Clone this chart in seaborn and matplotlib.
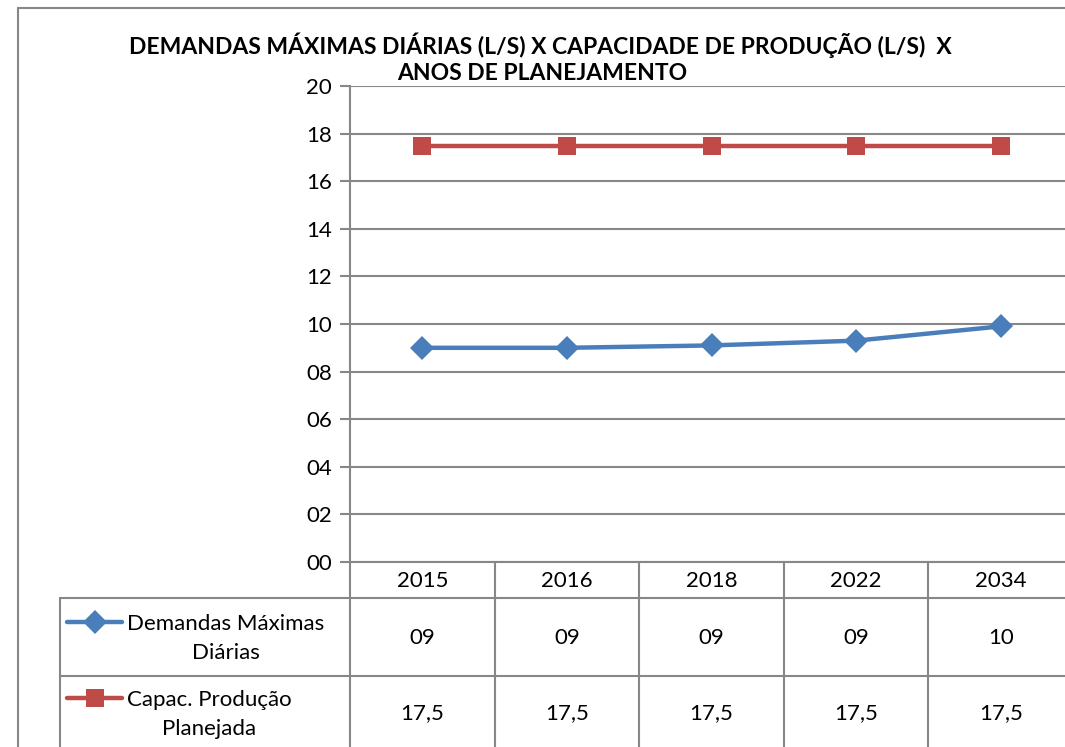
import pandas as pd
import seaborn as sns
import matplotlib.pyplot as plt
from matplotlib.lines import Line2D
from matplotlib.transforms import blended_transform_factory

# data
anos = ['2015', '2016', '2018', '2022', '2034']
demandas = [9.0, 9.0, 9.1, 9.3, 9.9]
capacidade = [17.5, 17.5, 17.5, 17.5, 17.5]
serie_nomes = ['Demandas Máximas\nDiárias', 'Capac. Produção\nPlanejada']
titulo_l1 = 'DEMANDAS MÁXIMAS DIÁRIAS (L/S) X CAPACIDADE DE PRODUÇÃO (L/S)  X'
titulo_l2 = 'ANOS DE PLANEJAMENTO'

azul = '#4A7EBB'
vermelho = '#BE4B48'
cinza = '#878787'
fs = 16

sns.set_style('white')
plt.rcParams['font.family'] = ['Lato', 'DejaVu Sans']
plt.rcParams['text.color'] = 'black'
plt.rcParams['ytick.labelcolor'] = 'black'

df = pd.DataFrame({
    'pos': list(range(len(anos))) * 2,
    'valor': demandas + capacidade,
    'serie': [serie_nomes[0]] * len(anos) + [serie_nomes[1]] * len(anos),
})

W, H = 1065, 747
fig = plt.figure(figsize=(W / 100, H / 100), dpi=100)
ax = fig.add_axes([350 / W, 1 - 562 / H, 723 / W, 476 / H])

sns.lineplot(data=df, x='pos', y='valor', hue='serie', style='serie',
             palette=[azul, vermelho], markers=['D', 's'], dashes=False,
             linewidth=3.2, markersize=12.5, markeredgewidth=0, ax=ax, legend=False)

ax.set_xlim(-0.5, len(anos) - 0.5)
ax.set_ylim(0, 20)
ax.set_yticks(range(0, 21, 2))
ax.set_yticklabels([f'{v:02d}' for v in range(0, 21, 2)], fontsize=fs, color='black')
ax.set_xticks([])
ax.set_xlabel('')
ax.set_ylabel('')
ax.grid(axis='y', color=cinza, linewidth=1.5)
ax.set_axisbelow(True)
for s in ['top', 'right']:
    ax.spines[s].set_visible(False)
for s in ['left', 'bottom']:
    ax.spines[s].set_color(cinza)
    ax.spines[s].set_linewidth(1.5)
ax.tick_params(axis='y', length=7, width=1.5, color=cinza, pad=6, left=True)

# title (two lines)
fig.text(540 / 1065, 1 - 45 / H, titulo_l1, ha='center', va='center', fontsize=16.5,
         fontweight='bold')
fig.text(542 / 1065, 1 - 73 / H, titulo_l2, ha='center', va='center', fontsize=16.5,
         fontweight='bold')

# data table below the plot
tr = blended_transform_factory(ax.transData, fig.transFigure)
fy = lambda p: 1 - p / H
fx = lambda p: p / W
lk = dict(color=cinza, linewidth=1.5)

for i in range(len(anos) + 1):
    fig.add_artist(Line2D([i - 0.5, i - 0.5], [fy(562), 0], transform=tr, **lk))
fig.add_artist(Line2D([fx(60), 1], [fy(598), fy(598)], **lk))
fig.add_artist(Line2D([fx(60), 1], [fy(676), fy(676)], **lk))
fig.add_artist(Line2D([fx(60), fx(60)], [fy(598), 0], **lk))
# outer chart border
fig.add_artist(Line2D([fx(18), fx(18)], [fy(8), 0], **lk))
fig.add_artist(Line2D([fx(18), 1], [fy(8), fy(8)], **lk))

for i, ano in enumerate(anos):
    fig.text(i, fy(581), ano, transform=tr, ha='center', va='center', fontsize=fs)
    fig.text(i, fy(638), f'{demandas[i]:02.0f}', transform=tr, ha='center', va='center', fontsize=fs)
    fig.text(i, fy(713), f'{capacidade[i]:.1f}'.replace('.', ','), transform=tr,
             ha='center', va='center', fontsize=fs)

for (yc, cor, mk, nome) in [(622, azul, 'D', serie_nomes[0]), (698, vermelho, 's', serie_nomes[1])]:
    fig.add_artist(Line2D([fx(67), fx(122)], [fy(yc), fy(yc)], color=cor, linewidth=3.2))
    fig.add_artist(Line2D([fx(94.5)], [fy(yc)], color=cor, marker=mk, markersize=12.5,
                          markeredgewidth=0))
    fig.text(fx(127), fy(yc + 16.5), nome, ha='left', va='center', fontsize=fs,
             multialignment='center', linespacing=1.6)

plt.savefig('out.png', dpi=100)
